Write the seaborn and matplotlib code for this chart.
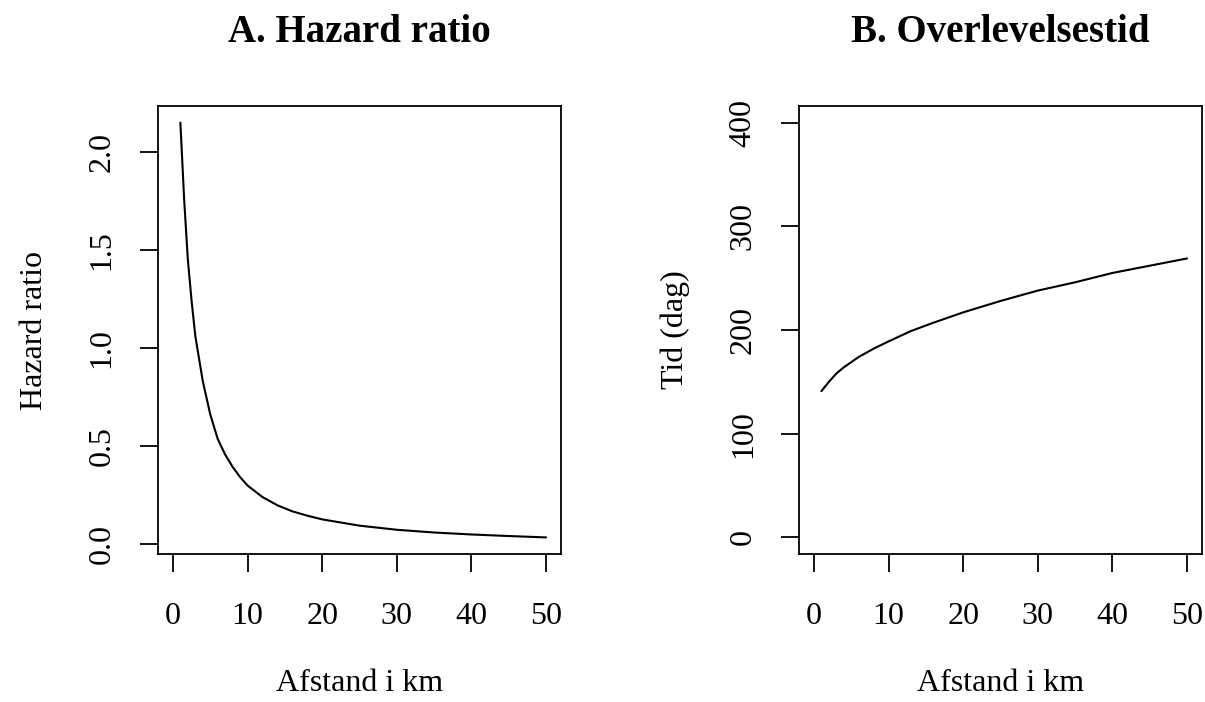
import matplotlib
matplotlib.use("Agg")
import matplotlib.pyplot as plt
import seaborn as sns

# values
hr_km = [1, 1.5, 2, 2.5, 3, 4, 5, 6, 7, 8, 9, 10, 12, 14, 16, 18, 20, 25, 30, 35, 40, 45, 50]
hr_val = [2.15, 1.76, 1.45, 1.24, 1.06, 0.83, 0.66, 0.535, 0.455, 0.392, 0.34, 0.297, 0.238,
          0.196, 0.165, 0.143, 0.124, 0.092, 0.071, 0.057, 0.047, 0.039, 0.032]

tid_km = [1, 2, 3, 4, 5, 6, 8, 10, 13, 16, 20, 25, 30, 35, 40, 45, 50]
tid_val = [141, 150, 158, 164, 169, 174, 182, 189, 199, 207, 217, 228, 238, 246, 255, 262, 269]

x_ticks = [0, 10, 20, 30, 40, 50]
hr_ticks = [0.0, 0.5, 1.0, 1.5, 2.0]
tid_ticks = [0, 100, 200, 300, 400]

sns.set_style("ticks")
plt.rcParams['font.family'] = ['Liberation Serif', 'DejaVu Serif']
plt.rcParams['text.color'] = 'black'
plt.rcParams['axes.labelcolor'] = 'black'

fig = plt.figure(figsize=(12.05, 7.02), dpi=100)
W, H = 1205, 702
ax1 = fig.add_axes([158 / W, (H - 554) / H, 403 / W, 448 / H])
ax2 = fig.add_axes([799 / W, (H - 554) / H, 403 / W, 448 / H])


def r_ext(lo, hi):
	d = (hi - lo) * 0.04
	return lo - d, hi + d


def style_axis(ax, title, ylabel, yticks, ylim, yfmt):
	ax.set_xlim(*r_ext(0, 50))
	ax.set_ylim(*ylim)
	ax.set_xticks(x_ticks)
	ax.set_xticklabels([str(t) for t in x_ticks])
	ax.set_yticks(yticks)
	ax.set_yticklabels([yfmt(t) for t in yticks], rotation=90, va="center")
	for s in ax.spines.values():
		s.set_visible(True)
		s.set_linewidth(1.3)
		s.set_color("black")
	ax.tick_params(axis="both", direction="out", length=13.2, width=1.3,
				   labelsize=23, colors="black")
	ax.tick_params(axis="x", pad=21.5)
	ax.tick_params(axis="y", pad=16.5)
	ax.set_title(title, fontsize=28, fontweight="bold", pad=46, color="black")
	ax.set_xlabel("Afstand i km", fontsize=23, color="black")
	ax.set_ylabel(ylabel, fontsize=23, color="black")
	ax.xaxis.set_label_coords(0.5, (554 - 669) / 448)
	ax.yaxis.set_label_coords((49 - 158) / 403, 0.5)
	ax.grid(False)


sns.lineplot(x=hr_km, y=hr_val, ax=ax1, color="black", linewidth=1.5)
style_axis(ax1, "A. Hazard ratio", "Hazard ratio", hr_ticks,
		   r_ext(min(hr_val), max(hr_val)), lambda t: "%.1f" % t)

sns.lineplot(x=tid_km, y=tid_val, ax=ax2, color="black", linewidth=1.5)
style_axis(ax2, "B. Overlevelsestid", "Tid (dag)", tid_ticks,
		   r_ext(0, 400), lambda t: "%d" % t)

fig.savefig("out.png", dpi=100)
